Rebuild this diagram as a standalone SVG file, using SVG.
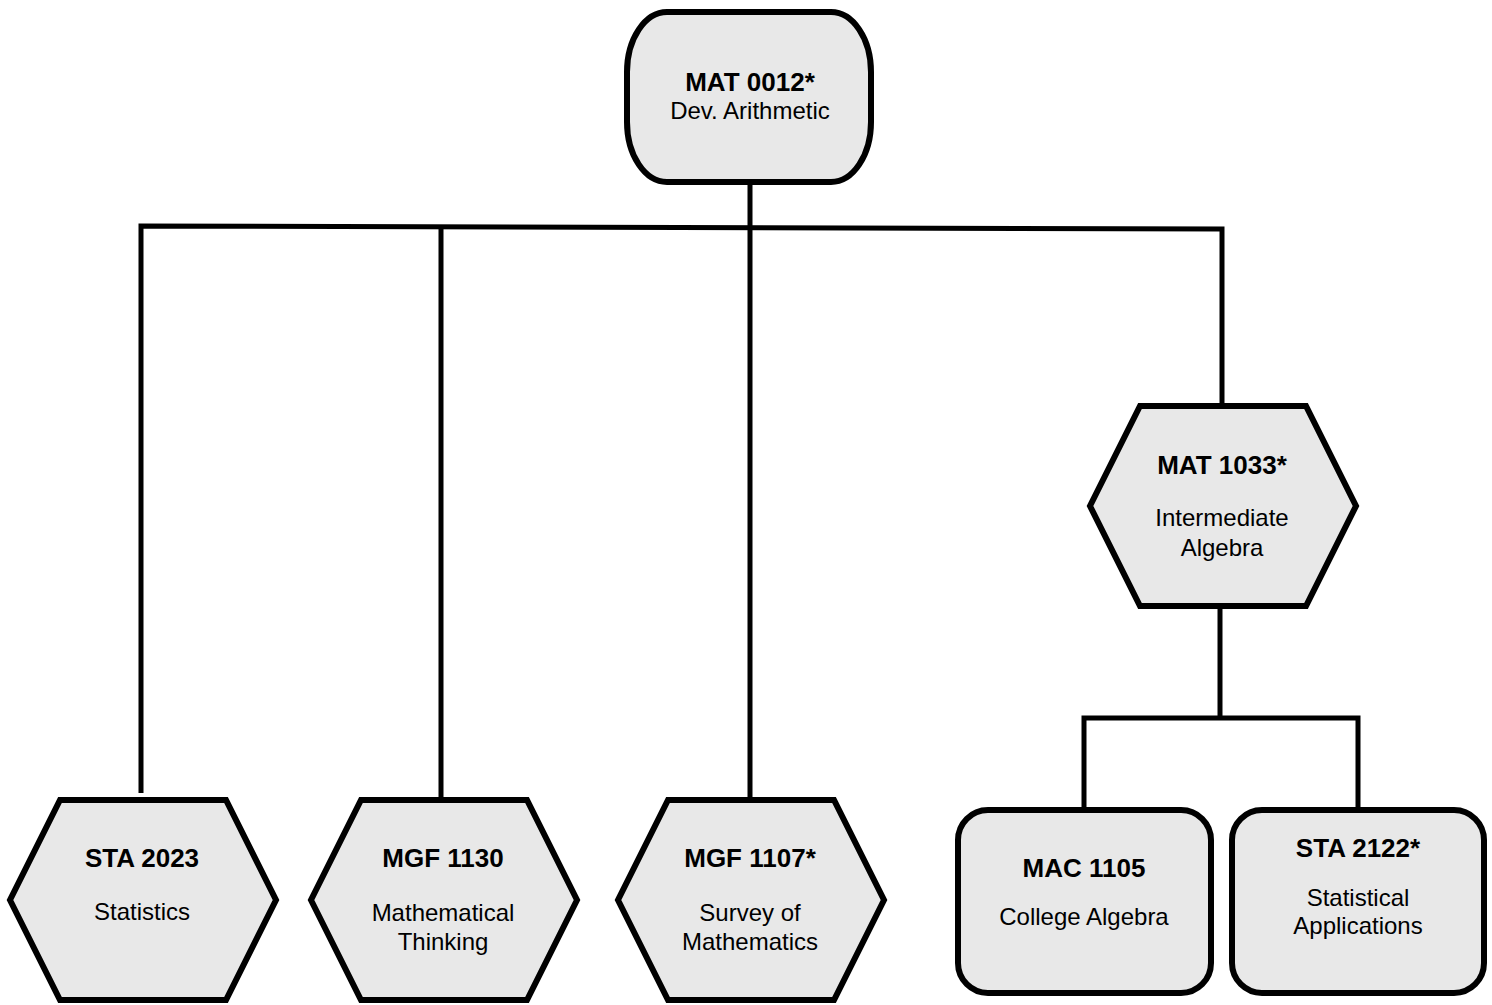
<svg xmlns="http://www.w3.org/2000/svg" width="1492" height="1005" viewBox="0 0 1492 1005">
<style>
.shape{fill:#e8e8e8;stroke:#000;stroke-width:6;stroke-linejoin:miter}
.conn{fill:none;stroke:#000;stroke-width:5;stroke-linejoin:miter}
.b{font-family:"Liberation Sans",Arial,sans-serif;font-weight:bold;font-size:26px;fill:#000;text-anchor:middle}
.r{font-family:"Liberation Sans",Arial,sans-serif;font-size:24px;fill:#000;text-anchor:middle}
</style>
<defs>
<polygon id="hex" points="-82,-100 84,-100 134,0 84,100 -82,100 -132,0"/>
</defs>
<rect width="1492" height="1005" fill="#fff"/>
<g id="connectors">
<polyline class="conn" points="141,793 141,226 1222,229 1222,405"/>
<line class="conn" x1="750" y1="182" x2="750" y2="798"/>
<line class="conn" x1="441" y1="227" x2="441" y2="800"/>
<polyline class="conn" points="1220,607 1220,718"/>
<polyline class="conn" points="1084,809 1084,718 1358,718 1358,809"/>
</g>
<g id="mat0012">
<path class="shape" d="M667,12 H831 A40,60 0 0 1 871,72 V122 A40,60 0 0 1 831,182 H667 A40,60 0 0 1 627,122 V72 A40,60 0 0 1 667,12 Z"/>
<text class="b" x="750" y="91">MAT 0012*</text>
<text class="r" x="750" y="119">Dev. Arithmetic</text>
</g>
<g id="mat1033">
<use href="#hex" class="shape" x="1222" y="506"/>
<text class="b" x="1222" y="474">MAT 1033*</text>
<text class="r" x="1222" y="526">Intermediate</text>
<text class="r" x="1222" y="556">Algebra</text>
</g>
<g id="sta2023">
<use href="#hex" class="shape" x="142" y="900"/>
<text class="b" x="142" y="867">STA 2023</text>
<text class="r" x="142" y="920">Statistics</text>
</g>
<g id="mgf1130">
<use href="#hex" class="shape" x="443" y="900"/>
<text class="b" x="443" y="867">MGF 1130</text>
<text class="r" x="443" y="921">Mathematical</text>
<text class="r" x="443" y="950">Thinking</text>
</g>
<g id="mgf1107">
<use href="#hex" class="shape" x="750" y="900"/>
<text class="b" x="750" y="867">MGF 1107*</text>
<text class="r" x="750" y="921">Survey of</text>
<text class="r" x="750" y="950">Mathematics</text>
</g>
<g id="mac1105">
<rect class="shape" x="958" y="810" width="253" height="183" rx="30" ry="30"/>
<text class="b" x="1084" y="877">MAC 1105</text>
<text class="r" x="1084" y="925">College Algebra</text>
</g>
<g id="sta2122">
<rect class="shape" x="1232" y="810" width="252" height="183" rx="30" ry="30"/>
<text class="b" x="1358" y="857">STA 2122*</text>
<text class="r" x="1358" y="906">Statistical</text>
<text class="r" x="1358" y="934">Applications</text>
</g>
</svg>
